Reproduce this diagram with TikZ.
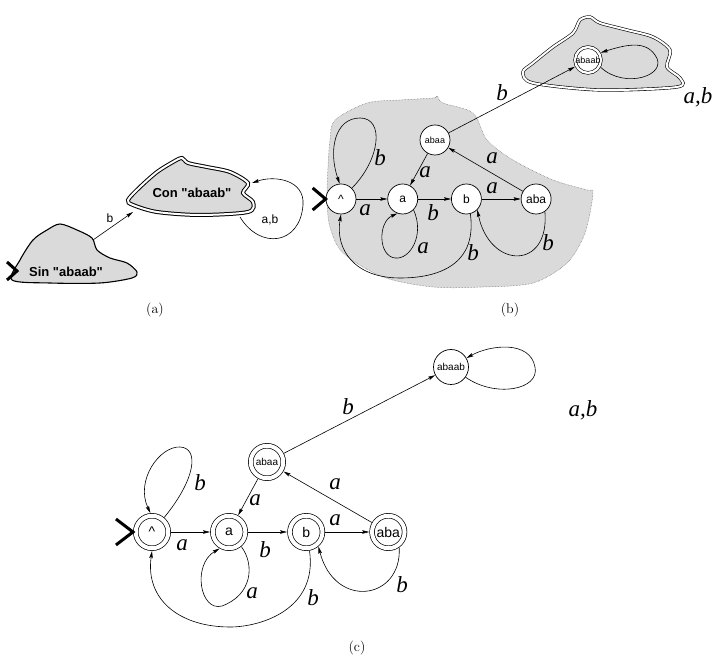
\documentclass[tikz,border=0pt]{standalone}
\usepackage{fontspec}
\usepackage{tikz}
\usetikzlibrary{arrows.meta, positioning}
\newfontfamily\statefont{Liberation Sans}
\newfontfamily\labelfont{Liberation Serif}
\definecolor{blobgray}{RGB}{218,218,218}

\begin{document}
\begin{tikzpicture}[
        x=1pt, y=-1pt,
        stnode/.style = {draw, circle, line width=0.7pt, inner sep=0pt, fill=white},
        bstate/.style = {stnode, minimum size=30pt, font=\statefont\fontsize{12}{12}\selectfont},
        cstate/.style = {stnode, minimum size=36pt, font=\statefont\fontsize{14}{14}\selectfont},
        accept/.style = {double, double distance=4pt, minimum size=32.5pt, outer sep=2.8pt},
        tinytext/.style = {font=\statefont\fontsize{9}{9}\selectfont},
        trans/.style = {draw, line width=0.6pt, -{Stealth[length=7pt, width=3.5pt, inset=1pt]}},
        blob/.style = {fill=blobgray, draw, line width=1.1pt},
        doubleblob/.style = {fill=blobgray, draw, double=white, double distance=1.8pt, line width=0.7pt},
        startmark/.style = {draw, line width=3pt, line join=miter},
        lab/.style = {font=\labelfont\itshape\fontsize{23}{23}\selectfont, inner sep=0pt},
        sanslab/.style = {font=\statefont\fontsize{12}{12}\selectfont, inner sep=0pt},
        caption/.style = {font=\fontsize{14}{14}\selectfont}
    ]
        \useasboundingbox (0,0) rectangle (716,668);

        % (a) two regions
        \path[blob] plot[smooth cycle] coordinates {(12,280) (20,260) (33,240) (47,230) (60,224) (77,230) (92,238) (97,250) (110,258) (127,263) (137,272) (132,278) (100,283) (50,283)};
        \path[doubleblob, line width=1pt, double distance=2pt] plot[smooth cycle] coordinates {(128,200) (140,187) (157,172) (173,162) (182,158) (188,163) (207,167) (230,172) (248,183) (243,193) (253,202) (248,212) (200,215) (157,212) (133,205)};
        \node (sin) [font=\statefont\bfseries\fontsize{13}{13}\selectfont] at (66,272) {Sin "abaab"};
        \node (con) [font=\statefont\bfseries\fontsize{13}{13}\selectfont] at (192,193) {Con "abaab"};
        \coordinate (sinOut) at (93,240);
        \coordinate (conIn) at (133,212);
        \coordinate (conOut) at (240,217);
        \coordinate (conBack) at (252,183);
        \coordinate (sinStart) at (17,271);
        \draw[trans] (sinOut) -- (conIn);
        \draw[trans] (conOut) .. controls (260,250) and (300,245) .. (303,205) .. controls (305,180) and (275,175) .. (conBack);
        \draw[startmark] ([xshift=-10pt, yshift=9pt]sinStart) -- (sinStart) -- ([xshift=-10pt, yshift=-9pt]sinStart);
        \node (la1) [sanslab] at (110,218) {b};
        \node (la2) [sanslab] at (270,220) {a,b};
        \node (capA) [caption] at (155,310) {(a)};

        % (b) automaton inside the regions
        \path[fill=blobgray, draw=black!60, densely dotted, line width=0.5pt] plot[smooth cycle] coordinates {(327,200) (328,167) (330,140) (335,120) (367,103) (400,100) (433,98) (437,96) (443,103) (473,113) (487,140) (513,160) (553,180) (587,190) (593,193) (585,233) (567,263) (533,283) (483,287) (433,287) (383,277) (343,253) (330,227)};
        \path[doubleblob, line width=0.6pt, double distance=2pt] plot[smooth cycle] coordinates {(523,72) (533,63) (553,47) (573,33) (580,20) (590,17) (600,23) (627,30) (653,37) (670,50) (667,67) (680,78) (677,87) (600,90) (533,83)};

        \node (b0) [bstate] at (341,199) {\textasciicircum};
        \node (b1) [bstate, right=31pt of b0] {a};
        \node (b2) [bstate, right=33pt of b1] {b};
        \node (b3) [bstate, right=39pt of b2] {aba};
        \node (b4) [bstate, tinytext] at (435,140) {abaa};
        \node (b5) [stnode, tinytext, double, double distance=2.3pt, line width=0.6pt, minimum size=23.5pt, outer sep=1.8pt] at (588,60) {abaab};

        \draw[trans] (b0) -- (b1);
        \draw[trans] (b1) -- (b2);
        \draw[trans] (b2) -- (b3);
        \draw[trans] (b3) -- (b4);
        \draw[trans] (b4) -- (b1);
        \draw[trans] (b4) -- (b5);
        \draw[trans] (b0.45) .. controls (380,160) and (385,118) .. (360,118) .. controls (335,118) and (328,150) .. (b0.95);
        \draw[trans] (b1.-45) .. controls (425,235) and (410,260) .. (395,258) .. controls (378,256) and (378,222) .. (b1.-110);
        \draw[trans] (b2.-75) .. controls (478,270) and (430,278) .. (400,278) .. controls (355,278) and (335,250) .. (b0.-90);
        \draw[trans] (b3.-55) .. controls (550,270) and (490,270) .. (b2.-45);
        \draw[trans] (b5.-30) .. controls (625,90) and (670,75) .. (655,55) .. controls (645,40) and (625,45) .. (b5.30);
        \draw[startmark] ([xshift=-13pt, yshift=11pt]b0.west) -- (b0.west) -- ([xshift=-13pt, yshift=-11pt]b0.west);

        \node (lb1) [lab] at (365,210) {a};
        \node (lb2) [lab] at (433,213) {b};
        \node (lb3) [lab] at (492,188) {a};
        \node (lb4) [lab] at (492,158) {a};
        \node (lb5) [lab] at (425,172) {a};
        \node (lb6) [lab] at (380,158) {b};
        \node (lb7) [lab] at (423,248) {a};
        \node (lb8) [lab] at (473,253) {b};
        \node (lb9) [lab] at (548,243) {b};
        \node (lb10) [lab] at (502,93) {b};
        \node (lb11) [lab] at (698,97) {a,b};
        \node (capB) [caption] at (510,310) {(b)};

        % (c) automaton alone
        \node (c0) [cstate, accept] at (152,532) {\textasciicircum};
        \node (c1) [cstate, accept, right=39pt of c0] {a};
        \node (c2) [cstate, accept, right=39pt of c1] {b};
        \node (c3) [cstate, accept, right=44pt of c2] {aba};
        \node (c4) [cstate, accept, font=\statefont\fontsize{10}{10}\selectfont] at (267,462) {abaa};
        \node (c5) [cstate, minimum size=35pt, font=\statefont\fontsize{10}{10}\selectfont] at (451,367) {abaab};

        \draw[trans] (c0) -- (c1);
        \draw[trans] (c1) -- (c2);
        \draw[trans] (c2) -- (c3);
        \draw[trans] (c3) -- (c4);
        \draw[trans] (c4) -- (c1);
        \draw[trans] (c4) -- (c5);
        \draw[trans] (c0.50) .. controls (195,480) and (200,448) .. (180,447) .. controls (160,446) and (135,480) .. (c0.95);
        \draw[trans] (c1.-50) .. controls (255,565) and (252,595) .. (222,606) .. controls (200,612) and (192,565) .. (c1.-120);
        \draw[trans] (c2.-80) .. controls (318,610) and (260,627) .. (230,627) .. controls (180,627) and (145,600) .. (c0.-90);
        \draw[trans] (c3.-55) .. controls (402,600) and (335,610) .. (c2.-50);
        \draw[trans] (c5.-35) .. controls (495,398) and (540,390) .. (535,367) .. controls (530,340) and (490,345) .. (c5.30);
        \draw[startmark] ([xshift=-17pt, yshift=13pt]c0.west) -- (c0.west) -- ([xshift=-17pt, yshift=-13pt]c0.west);

        \node (lc1) [lab] at (182,545) {a};
        \node (lc2) [lab] at (265,550) {b};
        \node (lc3) [lab] at (335,520) {a};
        \node (lc4) [lab] at (335,484) {a};
        \node (lc5) [lab] at (255,500) {a};
        \node (lc6) [lab] at (348,407) {b};
        \node (lc7) [lab] at (200,483) {b};
        \node (lc8) [lab] at (252,593) {a};
        \node (lc9) [lab] at (313,598) {b};
        \node (lc10) [lab] at (402,585) {b};
        \node (lc11) [lab] at (583,410) {a,b};
        \node (capC) [caption] at (357,648) {(c)};

    \end{tikzpicture}
\end{document}
